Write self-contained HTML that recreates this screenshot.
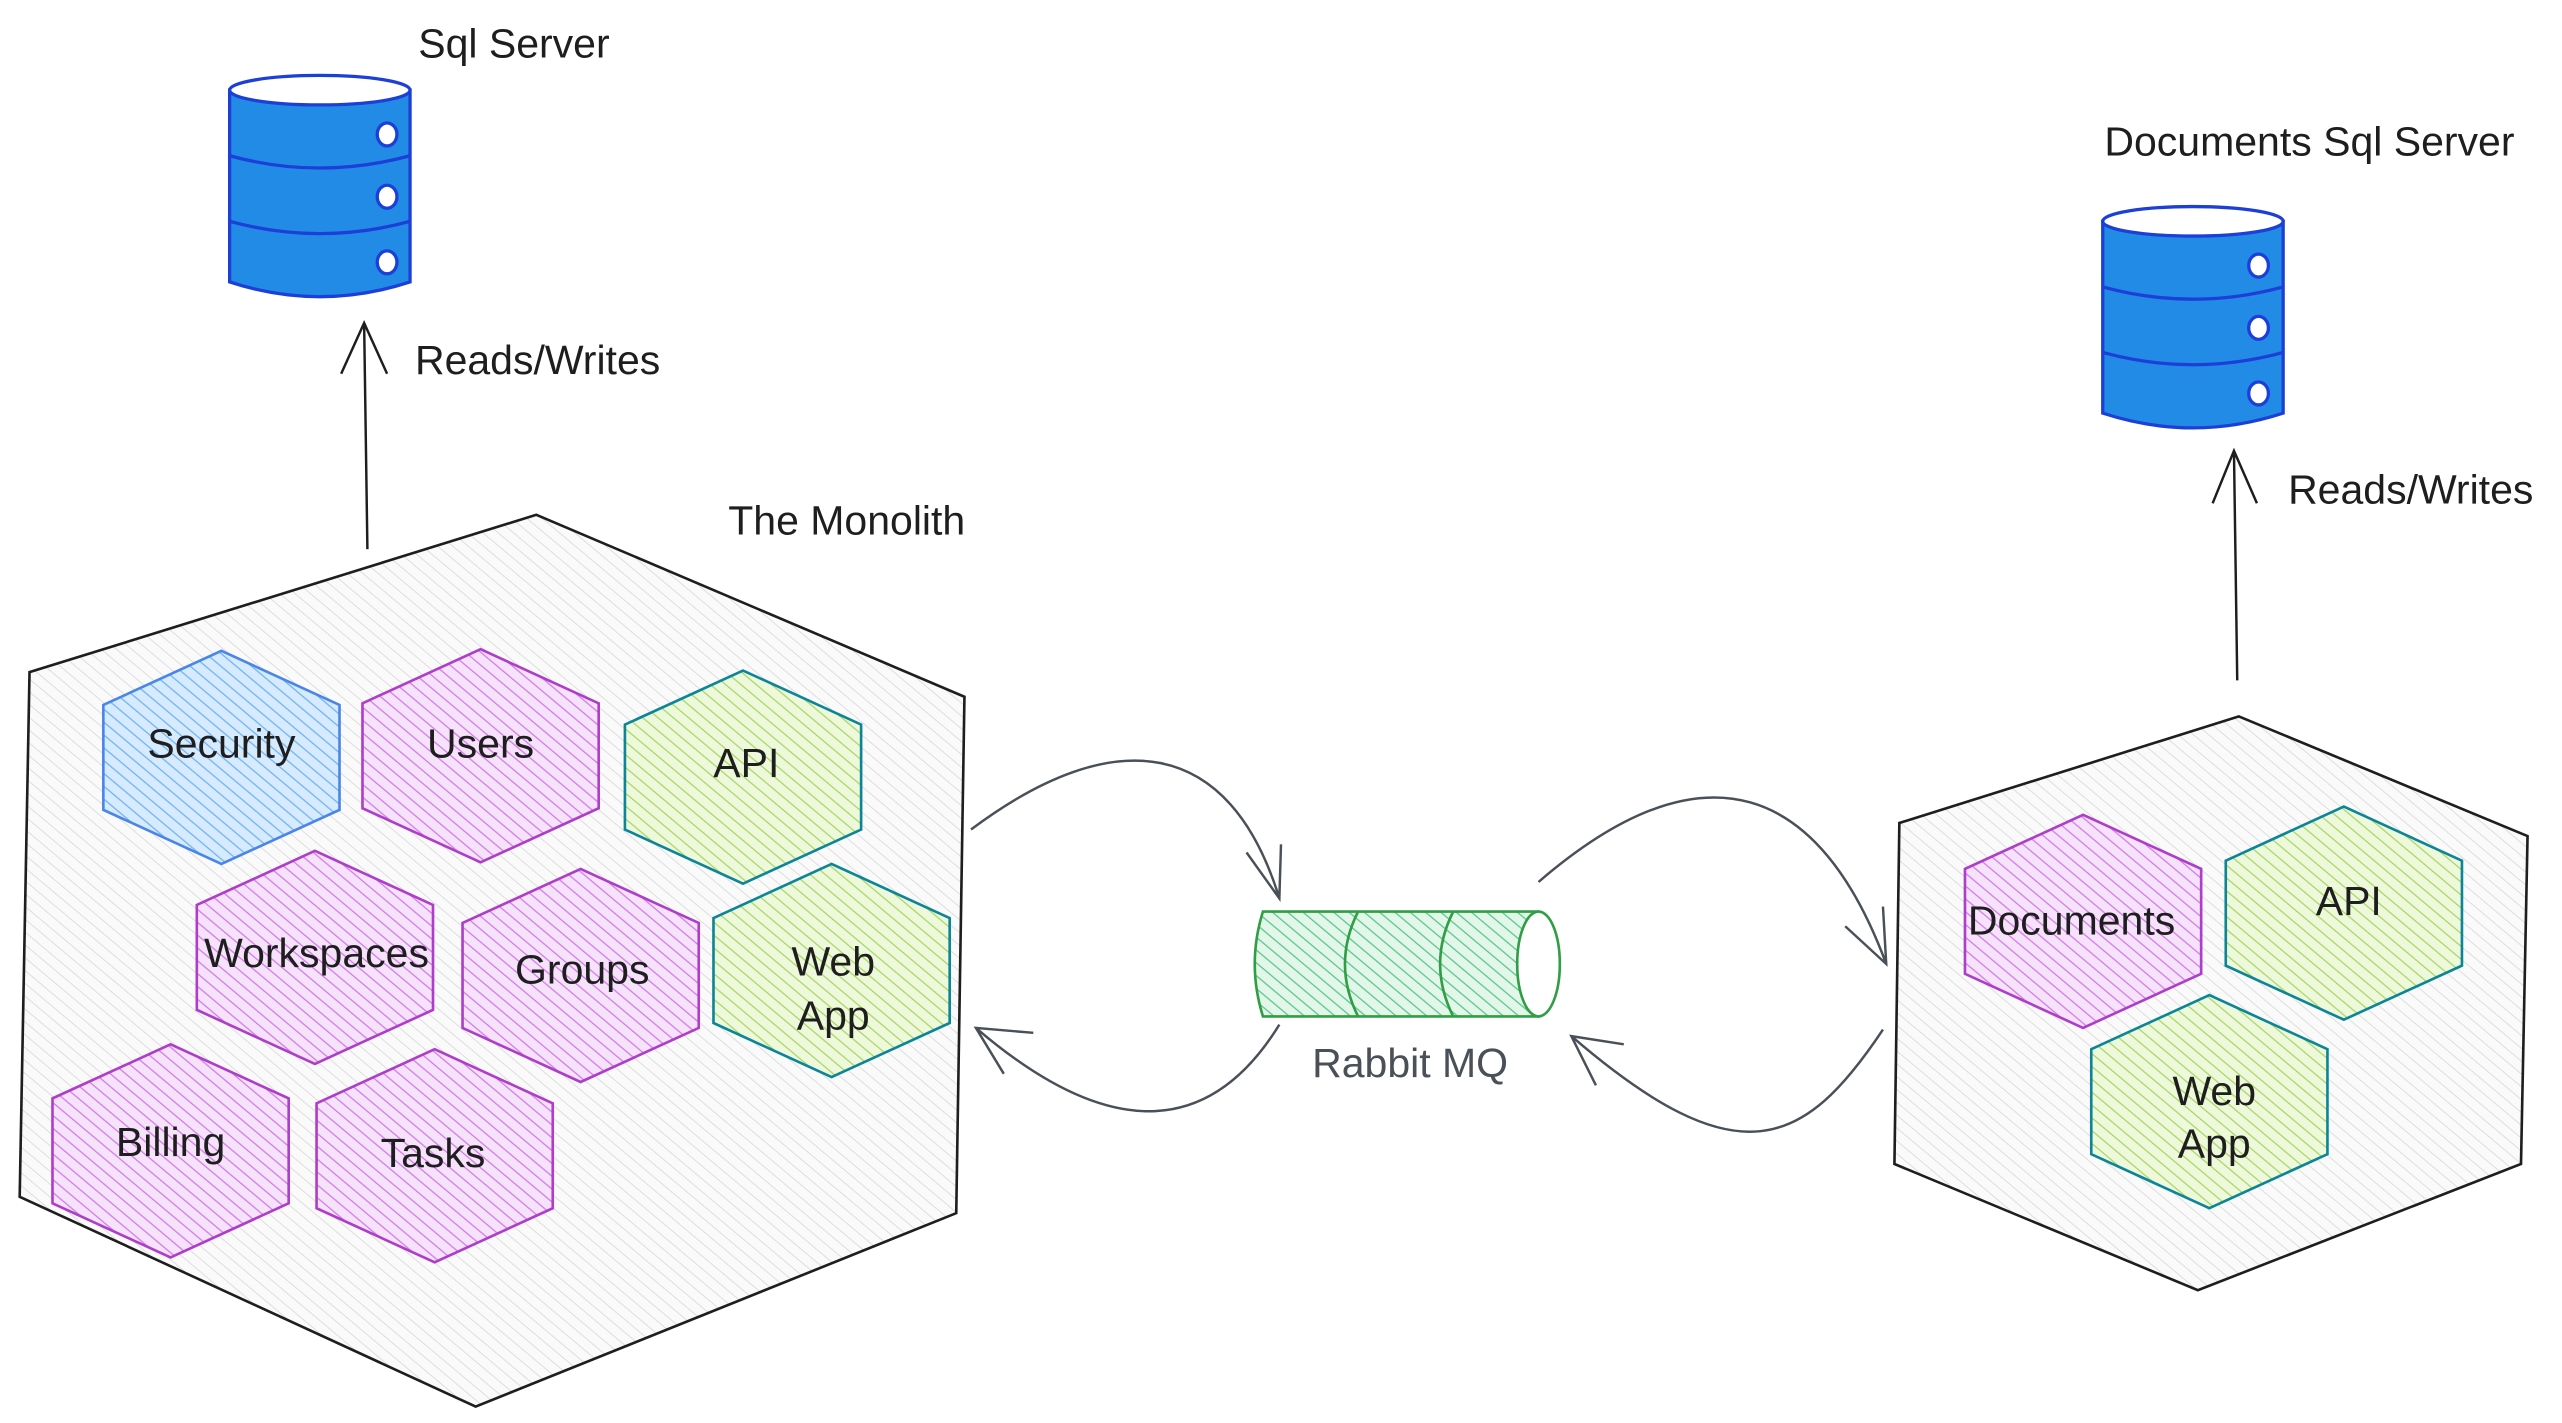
<!DOCTYPE html>
<html><head><meta charset="utf-8"><style>
html,body{margin:0;padding:0;background:#fff;}
svg{display:block}
text{font-family:"Liberation Sans",sans-serif;font-size:25px;fill:#1e1e1e}
</style></head><body>
<svg width="2562" height="1423" viewBox="0 0 1562 868" preserveAspectRatio="none" xmlns="http://www.w3.org/2000/svg">
<defs>
<pattern id="hg" width="6" height="6" patternUnits="userSpaceOnUse" patternTransform="rotate(-50)"><rect width="6" height="6" fill="#fafafa"/><line x1="0" y1="0" x2="0" y2="6" stroke="#d8d8d8" stroke-width="1"/></pattern>
<pattern id="hb" width="6" height="6" patternUnits="userSpaceOnUse" patternTransform="rotate(-50)"><rect width="6" height="6" fill="#d6ebff"/><line x1="0" y1="0" x2="0" y2="6" stroke="#74b4f0" stroke-width="1.6"/></pattern>
<pattern id="hp" width="6" height="6" patternUnits="userSpaceOnUse" patternTransform="rotate(-50)"><rect width="6" height="6" fill="#f6e2fb"/><line x1="0" y1="0" x2="0" y2="6" stroke="#d27ee6" stroke-width="1.6"/></pattern>
<pattern id="hgr" width="6" height="6" patternUnits="userSpaceOnUse" patternTransform="rotate(-50)"><rect width="6" height="6" fill="#eef9dc"/><line x1="0" y1="0" x2="0" y2="6" stroke="#a9d86a" stroke-width="1.6"/></pattern>
<pattern id="hr" width="6" height="6" patternUnits="userSpaceOnUse" patternTransform="rotate(-50)"><rect width="6" height="6" fill="#e3f6ea"/><line x1="0" y1="0" x2="0" y2="6" stroke="#5cc98a" stroke-width="1.6"/></pattern>
</defs>
<polygon points="327,314 588,425 583,740 290,858 12,730 18,410" fill="url(#hg)" stroke="#1e1e1e" stroke-width="1.6"/>
<polygon points="1365,437 1541,510 1537,710 1340,787 1155,710 1158,502" fill="url(#hg)" stroke="#1e1e1e" stroke-width="1.6"/>
<g stroke-width="1.6">
<polygon transform="translate(135,462)" points="0,-65 72,-32 72,32 0,65 -72,32 -72,-32" fill="url(#hb)" stroke="#4a86e8"/>
<polygon transform="translate(293,461)" points="0,-65 72,-32 72,32 0,65 -72,32 -72,-32" fill="url(#hp)" stroke="#ae3ec9"/>
<polygon transform="translate(453,474)" points="0,-65 72,-32 72,32 0,65 -72,32 -72,-32" fill="url(#hgr)" stroke="#0c8599"/>
<polygon transform="translate(192,584)" points="0,-65 72,-32 72,32 0,65 -72,32 -72,-32" fill="url(#hp)" stroke="#ae3ec9"/>
<polygon transform="translate(354,595)" points="0,-65 72,-32 72,32 0,65 -72,32 -72,-32" fill="url(#hp)" stroke="#ae3ec9"/>
<polygon transform="translate(507,592)" points="0,-65 72,-32 72,32 0,65 -72,32 -72,-32" fill="url(#hgr)" stroke="#0c8599"/>
<polygon transform="translate(104,702)" points="0,-65 72,-32 72,32 0,65 -72,32 -72,-32" fill="url(#hp)" stroke="#ae3ec9"/>
<polygon transform="translate(265,705)" points="0,-65 72,-32 72,32 0,65 -72,32 -72,-32" fill="url(#hp)" stroke="#ae3ec9"/>
<polygon transform="translate(1270,562)" points="0,-65 72,-32 72,32 0,65 -72,32 -72,-32" fill="url(#hp)" stroke="#ae3ec9"/>
<polygon transform="translate(1429,557)" points="0,-65 72,-32 72,32 0,65 -72,32 -72,-32" fill="url(#hgr)" stroke="#0c8599"/>
<polygon transform="translate(1347,672)" points="0,-65 72,-32 72,32 0,65 -72,32 -72,-32" fill="url(#hgr)" stroke="#0c8599"/>
</g>
<g text-anchor="middle">
<text x="135" y="462">Security</text>
<text x="293" y="462">Users</text>
<text x="455" y="474">API</text>
<text x="193" y="590">Workspaces</text>
<text x="355" y="600">Groups</text>
<text x="508" y="595">Web</text><text x="508" y="628">App</text>
<text x="104" y="705">Billing</text>
<text x="264" y="712">Tasks</text>
<text x="1263" y="570">Documents</text>
<text x="1432" y="558">API</text>
<text x="1350" y="674">Web</text><text x="1350" y="706">App</text>
</g>
<g stroke="#1c3fd8" stroke-width="2" fill="#228be6">
<path d="M140,55 V172 Q195,190 250,172 V55 Z"/>
<ellipse cx="195" cy="55" rx="55" ry="9" fill="#fff"/>
<path d="M140,95 Q195,110 250,95 M140,135 Q195,150 250,135" fill="none"/>
<ellipse cx="236" cy="82" rx="6" ry="7" fill="#fff"/><ellipse cx="236" cy="120" rx="6" ry="7" fill="#fff"/><ellipse cx="236" cy="160" rx="6" ry="7" fill="#fff"/>
<path d="M1282,135 V252 Q1337,270 1392,252 V135 Z"/>
<ellipse cx="1337" cy="135" rx="55" ry="9" fill="#fff"/>
<path d="M1282,175 Q1337,190 1392,175 M1282,215 Q1337,230 1392,215" fill="none"/>
<ellipse cx="1377" cy="162" rx="6" ry="7" fill="#fff"/><ellipse cx="1377" cy="200" rx="6" ry="7" fill="#fff"/><ellipse cx="1377" cy="240" rx="6" ry="7" fill="#fff"/>
</g>
<g stroke="#2f9e44" stroke-width="1.6">
<path d="M770,556 H938 V620 H770 Q760,588 770,556 Z" fill="url(#hr)"/>
<path d="M828,556 Q812,588 828,620 M886,556 Q870,588 886,620" fill="none"/>
<ellipse cx="938" cy="588" rx="13" ry="32" fill="#fff"/>
</g>
<g fill="none" stroke="#1e1e1e" stroke-width="1.5">
<path d="M224,335 L222,197 M208,228 L222,197 L236,228"/>
<path d="M1364,415 L1362,275 M1349,307 L1362,275 L1376,307"/>
</g>
<g fill="none" stroke="#495057" stroke-width="1.5">
<path d="M592,506 C680,440 750,450 780,548 M760,520 L780,548 L781,515"/>
<path d="M780,625 C740,690 680,700 595,627 M630,630 L595,627 L612,655"/>
<path d="M938,538 C1040,450 1110,480 1150,588 M1125,565 L1150,588 L1148,553"/>
<path d="M1148,628 C1100,700 1060,720 958,632 M990,637 L958,632 L973,662"/>
</g>
<text x="255" y="35">Sql Server</text>
<text x="1283" y="95">Documents Sql Server</text>
<text x="253" y="228">Reads/Writes</text>
<text x="1395" y="307">Reads/Writes</text>
<text x="444" y="326">The Monolith</text>
<text x="800" y="657" style="fill:#495057">Rabbit MQ</text>
</svg>
</body></html>
